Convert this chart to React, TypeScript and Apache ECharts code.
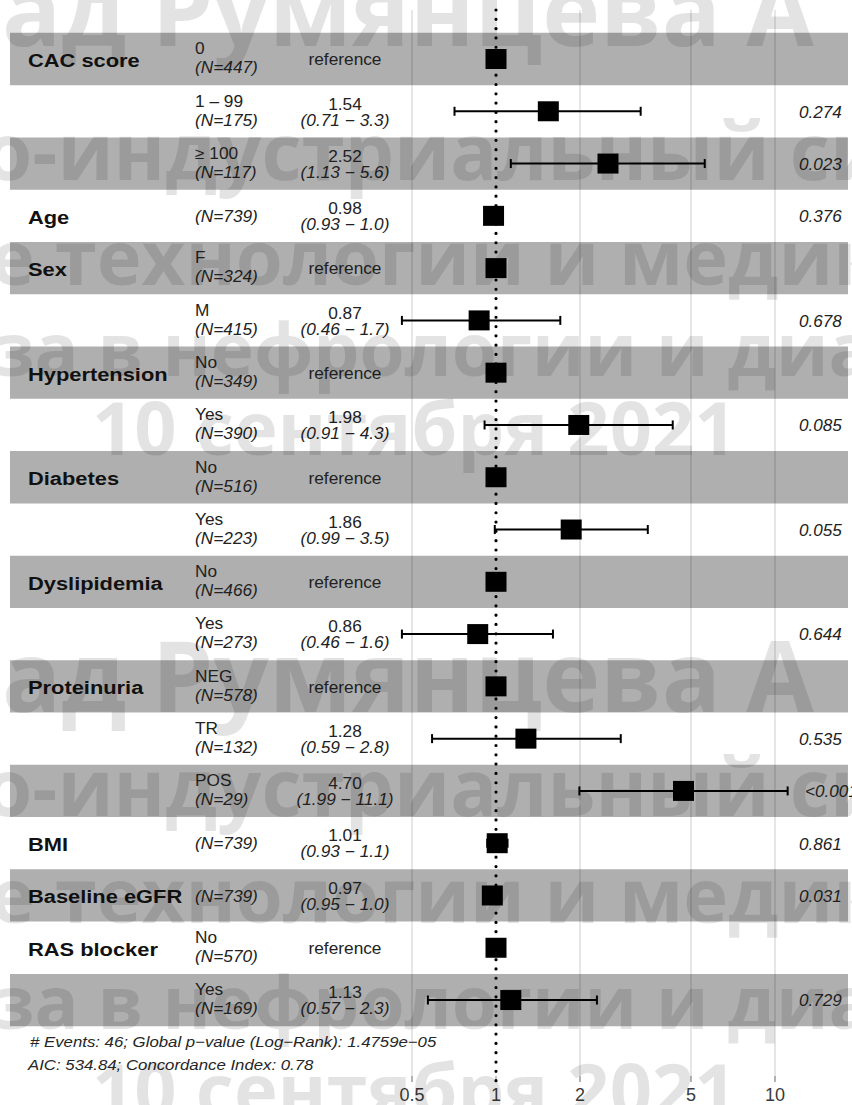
import React, { useEffect, useRef } from "react";
import * as echarts from "echarts";

// ---------------- data ----------------
const variables = ["CAC score", "", "", "Age", "Sex", "", "Hypertension", "", "Diabetes", "", "Dyslipidemia", "", "Proteinuria", "", "", "BMI", "Baseline eGFR", "RAS blocker", ""];
const levels = ["0", "1 – 99", "≥ 100", "", "F", "M", "No", "Yes", "No", "Yes", "No", "Yes", "NEG", "TR", "POS", "", "", "No", "Yes"];
const counts = [447, 175, 117, 739, 324, 415, 349, 390, 516, 223, 466, 273, 578, 132, 29, 739, 739, 570, 169];
const hazardRatios = [1, 1.54, 2.52, 0.98, 1, 0.87, 1, 1.98, 1, 1.86, 1, 0.86, 1, 1.28, 4.7, 1.01, 0.97, 1, 1.13];
const ciLower = [null, 0.71, 1.13, 0.93, null, 0.46, null, 0.91, null, 0.99, null, 0.46, null, 0.59, 1.99, 0.93, 0.95, null, 0.57];
const ciUpper = [null, 3.3, 5.6, 1.0, null, 1.7, null, 4.3, null, 3.5, null, 1.6, null, 2.8, 11.1, 1.1, 1.0, null, 2.3];
const pValues = ["", "0.274", "0.023", "0.376", "", "0.678", "", "0.085", "", "0.055", "", "0.644", "", "0.535", "<0.001", "0.861", "0.031", "", "0.729"];
const xTicks = [0.5, 1, 2, 5, 10];
const xTickLabels = ["0.5", "1", "2", "5", "10"];
const footerLines = [
  "# Events: 46; Global p−value (Log−Rank): 1.4759e−05",
  "AIC: 534.84; Concordance Index: 0.78",
];
const watermarkLines = [
  "ад Румянцева А",
  "о-индустриальный сим",
  "е технологии и медик",
  "за в нефрологии и диа",
  "10 сентября 2021",
];

// ---------------- layout ----------------
const W = 852;
const H = 1105;
const GRID_TOP = 10;
const GRID_BOTTOM_PX = 1082;
const X_ONE = 496;
const X_DECADE = 279;
const ROW0 = 59;
const ROW_H = 52.28;
const Y_MIN = 1 - (ROW0 - GRID_TOP) / ROW_H;
const Y_MAX = 1 + (GRID_BOTTOM_PX - ROW0) / ROW_H;
const X_MIN = Math.pow(10, -X_ONE / X_DECADE);
const X_MAX = Math.pow(10, (W - X_ONE) / X_DECADE);
const BAND_LEFT = 10;
const BAND_RIGHT = 848;
const COL_VAR = 28;
const COL_LEVEL = 195;
const COL_HR = 345;
const COL_P = 799;
const FONT = "'Liberation Sans', Arial, Helvetica, sans-serif";
const SX = 1.08;

const wmPos = [
  { x: 2, y: 8, size: 98 },
  { x: -16, y: 150, size: 78 },
  { x: -10, y: 255, size: 76 },
  { x: -6, y: 347, size: 73 },
  { x: 92, y: 426, size: 74 },
];
const wmBlockShift = [666, 636, 638, 653, 662];

function txt(x: number, y: number, text: string, o: any = {}) {
  return {
    type: "text",
    x,
    y,
    scaleX: o.scaleX ?? SX,
    z2: 10,
    style: {
      text,
      fill: o.fill ?? "#222",
      fontFamily: o.fontFamily ?? FONT,
      fontSize: o.fontSize ?? 16,
      fontWeight: o.fontWeight ?? "normal",
      fontStyle: o.fontStyle ?? "normal",
      align: o.align ?? "left",
      textAlign: o.align ?? "left",
      verticalAlign: "middle",
      textVerticalAlign: "middle",
    },
  };
}

export default function App() {
  const ref = useRef<HTMLDivElement>(null);

  useEffect(() => {
    document.body.style.margin = "0";
    const chart = echarts.init(ref.current!, null, { renderer: "svg" });

    const rows = hazardRatios.map((_, i) => i + 1);
    const bandRows = rows.filter((r) => r % 2 === 1);

    const forestData = rows.map((r, i) => [
      hazardRatios[i],
      r,
      ciLower[i] == null ? "-" : ciLower[i],
      ciUpper[i] == null ? "-" : ciUpper[i],
    ]);

    const watermark: any[] = [];
    [0, 1].forEach((b) => {
      watermarkLines.forEach((t, k) => {
        watermark.push({
          type: "text",
          x: wmPos[k].x,
          y: wmPos[k].y + (b ? wmBlockShift[k] : 0),
          z: 100,
          silent: true,
          style: {
            text: t,
            fill: "rgba(0,0,0,0.11)",
            fontFamily: "'Open Sans', 'Noto Sans', sans-serif",
            fontWeight: "bold",
            fontSize: wmPos[k].size,
            align: "left",
            textAlign: "left",
            verticalAlign: "middle",
            textVerticalAlign: "middle",
          },
        });
      });
    });

    const footer = footerLines.map((t, k) => ({
      type: "text",
      x: k === 0 ? 30 : 28,
      y: k === 0 ? 1042 : 1065,
      scaleX: 1.12,
      z: 90,
      style: {
        text: t,
        fill: "#262626",
        fontFamily: FONT,
        fontSize: 15,
        fontStyle: "italic",
        align: "left",
        textAlign: "left",
        verticalAlign: "middle",
        textVerticalAlign: "middle",
      },
    }));

    chart.setOption({
      animation: false,
      backgroundColor: "#ffffff",
      grid: { left: 0, right: 0, top: GRID_TOP, bottom: H - GRID_BOTTOM_PX },
      xAxis: [
        {
          type: "log",
          logBase: 10,
          min: X_MIN,
          max: X_MAX,
          axisLine: { show: false },
          axisTick: { show: false },
          axisLabel: { show: false },
          splitLine: { show: false },
        },
        { type: "value", min: 0, max: W, show: false, splitLine: { show: false } },
      ],
      yAxis: {
        type: "value",
        inverse: true,
        min: Y_MIN,
        max: Y_MAX,
        show: false,
        splitLine: { show: false },
      },
      series: [
        {
          type: "custom",
          name: "bands",
          xAxisIndex: 1,
          z: 1,
          silent: true,
          data: bandRows.map((r) => [BAND_LEFT, r]),
          encode: { x: 0, y: 1 },
          renderItem: (params: any, api: any) => {
            const r = api.value(1);
            const p0 = api.coord([BAND_LEFT, r - 0.5]);
            const p1 = api.coord([BAND_RIGHT, r + 0.5]);
            return {
              type: "rect",
              shape: { x: p0[0], y: p0[1], width: p1[0] - p0[0], height: p1[1] - p0[1] },
              style: { fill: "#afafaf" },
            };
          },
        },
        {
          type: "custom",
          name: "grid",
          xAxisIndex: 0,
          z: 2,
          silent: true,
          data: xTicks.map((v) => [v, Y_MAX]),
          encode: { x: 0, y: 1 },
          renderItem: (params: any, api: any) => {
            const v = api.value(0);
            const top = api.coord([v, Y_MIN]);
            const bot = api.coord([v, Y_MAX]);
            const children: any[] = [];
            if (v === 1) {
              children.push({
                type: "line",
                shape: { x1: top[0], y1: top[1], x2: bot[0], y2: bot[1] },
                style: { stroke: "#000", lineWidth: 3.2, lineDash: [0.01, 9.3], lineCap: "round" },
              });
            } else {
              children.push({
                type: "line",
                shape: { x1: top[0], y1: top[1], x2: bot[0], y2: bot[1] },
                style: { stroke: "rgba(0,0,0,0.2)", lineWidth: 1 },
              });
            }
            children.push({
              type: "line",
              shape: { x1: bot[0], y1: bot[1] - 6, x2: bot[0], y2: bot[1] },
              style: { stroke: "rgba(0,0,0,0.45)", lineWidth: 1 },
            });
            children.push(
              txt(bot[0], bot[1] + 13, xTickLabels[params.dataIndex], {
                align: "center",
                fontSize: 18,
                scaleX: 1,
                fill: "#3a3a3a",
              })
            );
            return { type: "group", children };
          },
        },
        {
          type: "custom",
          name: "hazard ratio",
          xAxisIndex: 0,
          z: 3,
          silent: true,
          data: forestData,
          encode: { x: 0, y: 1 },
          renderItem: (params: any, api: any) => {
            const hrv = api.value(0);
            const r = api.value(1);
            const lo = api.value(2);
            const hi = api.value(3);
            const c = api.coord([hrv, r]);
            const children: any[] = [];
            if (isFinite(lo) && isFinite(hi)) {
              const a = api.coord([lo, r]);
              const b = api.coord([hi, r]);
              children.push({
                type: "line",
                shape: { x1: a[0], y1: c[1], x2: b[0], y2: c[1] },
                style: { stroke: "#000", lineWidth: 2 },
              });
              [a[0], b[0]].forEach((x) =>
                children.push({
                  type: "line",
                  shape: { x1: x, y1: c[1] - 4.5, x2: x, y2: c[1] + 4.5 },
                  style: { stroke: "#000", lineWidth: 2 },
                })
              );
            }
            children.push({
              type: "rect",
              shape: { x: c[0] - 10.5, y: c[1] - 10, width: 21, height: 20 },
              style: { fill: "#000" },
            });
            return { type: "group", children };
          },
        },
        {
          type: "custom",
          name: "table",
          xAxisIndex: 1,
          z: 4,
          silent: true,
          data: rows.map((r) => [COL_VAR, r]),
          encode: { x: 0, y: 1 },
          renderItem: (params: any, api: any) => {
            const i = params.dataIndex;
            const r = api.value(1);
            const yc = api.coord([0, r])[1];
            const xp = (px: number) => api.coord([px, r])[0];
            const children: any[] = [];
            if (variables[i]) {
              children.push(
                txt(xp(COL_VAR), yc + 1, variables[i], {
                  fontSize: 19,
                  fontWeight: "bold",
                  scaleX: 1.15,
                  fill: "#111",
                })
              );
            }
            const nText = "(N=" + counts[i] + ")";
            if (levels[i]) {
              children.push(txt(xp(COL_LEVEL), yc - 10, levels[i]));
              children.push(txt(xp(COL_LEVEL), yc + 9, nText, { fontStyle: "italic" }));
            } else {
              children.push(txt(xp(COL_LEVEL), yc + 1, nText, { fontStyle: "italic" }));
            }
            if (ciLower[i] == null) {
              children.push(txt(xp(COL_HR), yc + 1, "reference", { align: "center" }));
            } else {
              children.push(txt(xp(COL_HR), yc - 7, hazardRatios[i].toFixed(2), { align: "center" }));
              children.push(
                txt(
                  xp(COL_HR),
                  yc + 9,
                  "(" + (ciLower[i] as number).toFixed(2) + " − " + (ciUpper[i] as number).toFixed(1) + ")",
                  { align: "center", fontStyle: "italic" }
                )
              );
            }
            if (pValues[i]) {
              const shift = pValues[i].length > 5 ? 6 : 0;
              children.push(txt(xp(COL_P + shift), yc + 1, pValues[i], { fontStyle: "italic", scaleX: 1.07 }));
            }
            return { type: "group", children };
          },
        },
      ],
      graphic: { elements: [...footer, ...watermark] },
    });

    return () => chart.dispose();
  }, []);

  return <div ref={ref} style={{ width: W, height: H }} />;
}
